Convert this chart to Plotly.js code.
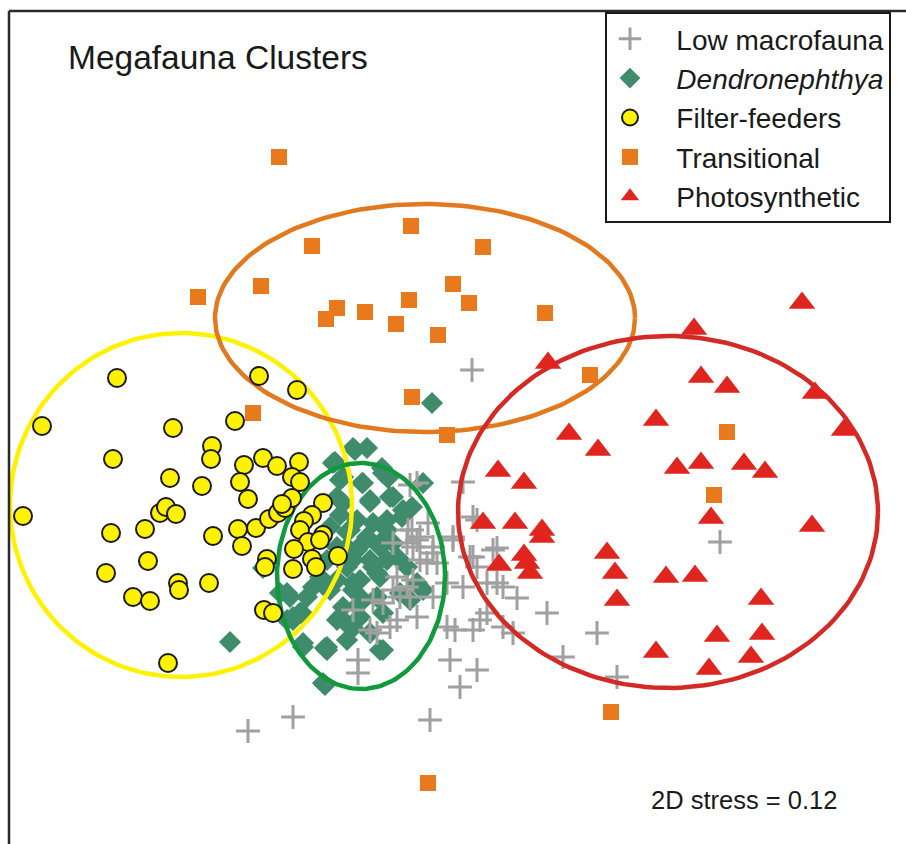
<!DOCTYPE html>
<html>
<head>
<meta charset="utf-8">
<script src="https://cdn.plot.ly/plotly-3.0.1.min.js"></script>
<style>html,body{margin:0;padding:0;background:#fff;}#chart{width:906px;height:844px;}</style>
</head>
<body>
<div id="chart"></div>
<script>
// nMDS ordination scores (arbitrary units; axis 2 increases downward as plotted)
const lowMacroX = [472,463,410,428,477,453,497,420,413,433,470,420,437,408,417,473,412,417,407,393,453,433,473,493,477,397,413,447,463,487,497,503,393,407,433,517,373,383,400,353,397,417,487,480,547,447,455,473,503,513,370,377,390,358,358,450,477,460,430,427,597,563,293,248,617,720,410];
const lowMacroY = [370,482,485,523,520,537,548,537,547,547,557,560,563,530,483,517,530,540,543,543,540,553,557,550,567,577,580,583,587,583,583,587,590,587,597,598,600,603,597,610,620,617,613,620,613,627,630,630,627,633,630,633,627,660,673,660,670,687,720,563,633,657,717,731,677,542,597];

const dendroX = [432,367,355,335,382,340,362,388,423,370,393,337,412,340,357,373,387,402,330,347,367,380,393,337,357,397,327,347,373,407,320,360,380,417,423,313,330,353,287,377,410,343,360,300,337,357,383,353,370,347,303,325,380,323,293,400,230,333,353,327,303,290,302,263,343,363,383,370,390,343,403,350,387,347,363,380,353,370,387,323,307,337,353,363,377,340,360,350,293,300,327,383,325,280,287];
const dendroY = [403,448,450,462,468,480,483,478,483,502,497,497,507,515,520,523,520,517,527,532,537,543,543,547,550,557,560,567,567,567,577,580,577,583,590,587,590,590,593,597,600,607,603,613,620,620,613,628,633,640,647,648,650,683,620,593,642,463,448,647,643,597,613,568,477,483,473,500,497,503,510,530,530,547,543,547,560,560,560,585,597,580,583,600,573,617,617,627,617,613,650,650,685,593,620];

const filterX = [117,42,173,259,297,235,113,212,211,170,202,244,240,263,277,299,292,300,248,23,160,166,176,111,145,213,238,256,242,269,278,285,292,323,312,304,300,323,308,294,338,312,316,267,265,293,148,106,178,179,209,133,150,264,273,168,282,320];
const filterY = [378,426,428,376,390,421,459,446,459,478,486,465,482,458,466,462,477,482,499,516,513,507,514,533,529,536,529,528,546,519,513,508,498,503,515,521,530,535,542,549,556,559,567,559,567,569,561,573,583,590,583,597,601,610,613,663,504,540];

const transX = [279,411,312,483,261,198,453,469,409,337,326,365,396,438,545,590,412,253,447,727,714,611,428];
const transY = [157,226,246,247,286,297,284,303,300,308,319,312,324,335,313,375,397,413,435,432,495,712,783];

const photoX = [802,694,548,701,727,815,656,844,569,598,677,701,744,765,498,524,711,812,483,515,542,542,524,527,499,530,607,615,617,666,695,761,717,762,656,751,709];
const photoY = [303,329,363,377,387,393,420,430,434,450,468,463,464,472,471,483,518,526,523,523,530,537,555,563,565,573,553,573,600,577,576,599,636,634,652,657,669];

// legend labels
const groupNames = ["Low macrofauna","<i>Dendronephthya</i>","Filter-feeders","Transitional","Photosynthetic"];

// group ellipses: centre x, centre y, radius x, radius y
const ellCX = [181,425,361,668];
const ellCY = [505,318,576,512];
const ellRX = [171,210,84,210];
const ellRY = [172,114,113,176];
const ellColors = ["#FFF200","#E2791F","#119A3C","#D42A25"];

function ellipseTrace(i){
  const xs=[], ys=[];
  for(let k=0;k<=180;k++){
    const t = 2*Math.PI*k/180;
    xs.push(ellCX[i]+ellRX[i]*Math.cos(t));
    ys.push(ellCY[i]+ellRY[i]*Math.sin(t));
  }
  return {x:xs,y:ys,mode:'lines',type:'scatter',showlegend:false,hoverinfo:'skip',
    line:{color:ellColors[i],width:4.5}};
}
const pad = '\u00a0\u00a0\u00a0';
const traces = [
  {x:dendroX,y:dendroY,mode:'markers',type:'scatter',name:pad+groupNames[1],legendrank:2,
   marker:{symbol:'diamond',size:17,color:'#3E8C6C'}},
  {x:lowMacroX,y:lowMacroY,mode:'markers',type:'scatter',name:pad+groupNames[0],legendrank:1,
   marker:{symbol:'cross-thin',size:17,color:'#A0A0A0',line:{color:'#A0A0A0',width:3}}},
  ellipseTrace(0),ellipseTrace(1),ellipseTrace(2),ellipseTrace(3),
  {x:filterX,y:filterY,mode:'markers',type:'scatter',name:pad+groupNames[2],legendrank:3,
   marker:{symbol:'circle',size:18,color:'#FFF200',line:{color:'#1a1a1a',width:2}}},
  {x:transX,y:transY,mode:'markers',type:'scatter',name:pad+groupNames[3],legendrank:4,
   marker:{symbol:'square',size:16,color:'#E8791C'}},
  {x:photoX,y:photoY,mode:'markers',type:'scatter',name:pad+groupNames[4],legendrank:5,
   marker:{symbol:'triangle-up',size:23,color:'#E0251F'}}
];

const layout = {
  width:906,height:844,
  margin:{l:0,r:0,t:0,b:0,autoexpand:false},
  paper_bgcolor:'#fff',plot_bgcolor:'#fff',
  font:{family:'Liberation Sans, Arial, sans-serif',color:'#1a1a1a'},
  title:{text:'Megafauna Clusters',x:68/906,xanchor:'left',xref:'paper',y:1-57/844,yanchor:'middle',
    font:{size:33.5,color:'#1a1a1a'}},
  xaxis:{range:[0,906],visible:false,fixedrange:true},
  yaxis:{range:[844,0],visible:false,fixedrange:true},
  showlegend:true,
  legend:{x:605/906,y:1-12/844,xanchor:'left',yanchor:'top',bgcolor:'#fff',bordercolor:'#1a1a1a',borderwidth:2,
    font:{size:28,color:'#1a1a1a'},itemsizing:'trace',itemwidth:36,tracegroupgap:0},
  shapes:[
    {type:'line',xref:'paper',yref:'paper',x0:9/906,x1:9/906,y0:0,y1:1-11/844,line:{color:'#2a2a2a',width:2.5}},
    {type:'line',xref:'paper',yref:'paper',x0:9/906,x1:1,y0:1-11/844,y1:1-11/844,line:{color:'#2a2a2a',width:2.5}}
  ],
  annotations:[
    {text:'2D stress = 0.12',xref:'paper',yref:'paper',x:744/906,y:1-800/844,xanchor:'center',yanchor:'middle',
     showarrow:false,font:{size:25.5,color:'#1a1a1a'}}
  ]
};

Plotly.newPlot('chart',traces,layout,{displayModeBar:false,staticPlot:true});
</script>
</body>
</html>
